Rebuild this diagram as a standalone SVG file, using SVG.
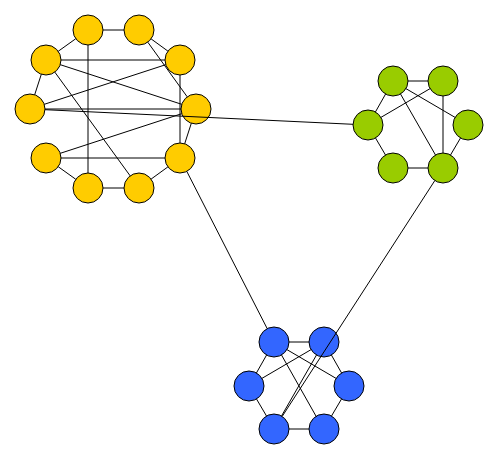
<svg xmlns="http://www.w3.org/2000/svg" width="499" height="460" viewBox="0 0 499 460">
<style>
.n{stroke:#000;stroke-width:1}
.y{fill:#FFCC00}
.g{fill:#99CC00}
.b{fill:#3366FF}
#edges line{stroke:#000;stroke-width:1}
</style>
<rect width="499" height="460" fill="#fff"/>
<g id="Y1"><circle class="n y" cx="88" cy="30" r="15"/></g>
<g id="Y2"><circle class="n y" cx="139" cy="30" r="15"/></g>
<g id="Y3"><circle class="n y" cx="46" cy="60" r="15"/></g>
<g id="Y4"><circle class="n y" cx="180" cy="60" r="15"/></g>
<g id="Y5"><circle class="n y" cx="30" cy="109" r="15"/></g>
<g id="Y6"><circle class="n y" cx="196" cy="109" r="15"/></g>
<g id="Y7"><circle class="n y" cx="46" cy="158" r="15"/></g>
<g id="Y8"><circle class="n y" cx="180" cy="158" r="15"/></g>
<g id="Y9"><circle class="n y" cx="88" cy="188" r="15"/></g>
<g id="Y10"><circle class="n y" cx="139" cy="188" r="15"/></g>
<g id="G1"><circle class="n g" cx="393" cy="81" r="15"/></g>
<g id="G2"><circle class="n g" cx="443" cy="81" r="15"/></g>
<g id="G3"><circle class="n g" cx="368" cy="125" r="15"/></g>
<g id="G4"><circle class="n g" cx="468" cy="125" r="15"/></g>
<g id="G5"><circle class="n g" cx="393" cy="168" r="15"/></g>
<g id="G6"><circle class="n g" cx="443" cy="168" r="15"/></g>
<g id="B1"><circle class="n b" cx="274" cy="342" r="15"/></g>
<g id="B2"><circle class="n b" cx="324" cy="342" r="15"/></g>
<g id="B3"><circle class="n b" cx="249" cy="386" r="15"/></g>
<g id="B4"><circle class="n b" cx="349" cy="386" r="15"/></g>
<g id="B5"><circle class="n b" cx="274" cy="429" r="15"/></g>
<g id="B6"><circle class="n b" cx="324" cy="429" r="15"/></g>
<g id="edges">
<line x1="103" y1="30" x2="124" y2="30"/>
<line x1="75.8" y1="38.7" x2="58.2" y2="51.3"/>
<line x1="151.1" y1="38.9" x2="167.9" y2="51.1"/>
<line x1="88" y1="45" x2="88" y2="173"/>
<line x1="61" y1="60" x2="165" y2="60"/>
<line x1="60.3" y1="64.7" x2="181.7" y2="104.3"/>
<line x1="54.8" y1="72.1" x2="130.2" y2="175.9"/>
<line x1="147.8" y1="42.2" x2="187.2" y2="96.8"/>
<line x1="180" y1="75" x2="180" y2="143"/>
<line x1="44.3" y1="104.3" x2="165.7" y2="64.7"/>
<line x1="45" y1="109" x2="181" y2="109"/>
<line x1="41.3" y1="74.3" x2="34.7" y2="94.7"/>
<line x1="60.3" y1="153.3" x2="181.7" y2="113.7"/>
<line x1="61" y1="158" x2="165" y2="158"/>
<line x1="58.2" y1="166.7" x2="75.8" y2="179.3"/>
<line x1="103" y1="188" x2="124" y2="188"/>
<line x1="151.1" y1="179.1" x2="167.9" y2="166.9"/>
<line x1="191.3" y1="123.3" x2="184.7" y2="143.7"/>
<line x1="45" y1="109.7" x2="353" y2="124.3"/>
<line x1="186.8" y1="171.4" x2="267.2" y2="328.6"/>
<line x1="434.8" y1="180.6" x2="282.2" y2="416.4"/>
<line x1="408" y1="81" x2="428" y2="81"/>
<line x1="385.6" y1="94" x2="375.4" y2="112"/>
<line x1="375.5" y1="138" x2="385.5" y2="155"/>
<line x1="408" y1="168" x2="428" y2="168"/>
<line x1="450.5" y1="155" x2="460.5" y2="138"/>
<line x1="443" y1="96" x2="443" y2="153"/>
<line x1="380.9" y1="117.4" x2="430.1" y2="88.6"/>
<line x1="405.9" y1="88.6" x2="455.1" y2="117.4"/>
<line x1="400.5" y1="94" x2="435.5" y2="155"/>
<line x1="289" y1="342" x2="309" y2="342"/>
<line x1="266.6" y1="355" x2="256.4" y2="373"/>
<line x1="256.5" y1="399" x2="266.5" y2="416"/>
<line x1="289" y1="429" x2="309" y2="429"/>
<line x1="331.4" y1="355" x2="341.6" y2="373"/>
<line x1="341.5" y1="399" x2="331.5" y2="416"/>
<line x1="261.9" y1="378.4" x2="311.1" y2="349.6"/>
<line x1="286.9" y1="349.6" x2="336.1" y2="378.4"/>
<line x1="281.5" y1="355" x2="316.5" y2="417"/>
<line x1="281.5" y1="416" x2="316.5" y2="355"/>
</g>
</svg>
